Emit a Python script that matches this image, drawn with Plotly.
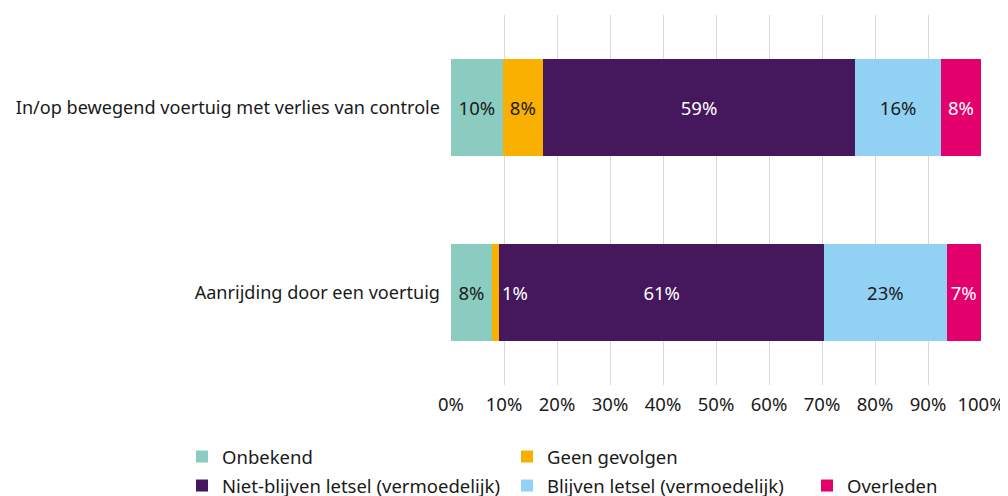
import plotly.graph_objects as go

categories = [
    "In/op bewegend voertuig met verlies van controle",
    "Aanrijding door een voertuig",
]
series_names = [
    "Onbekend",
    "Geen gevolgen",
    "Niet-blijven letsel (vermoedelijk)",
    "Blijven letsel (vermoedelijk)",
    "Overleden",
]
# share per category (percent)
values = {
    "Onbekend": [9.75, 7.7],
    "Geen gevolgen": [7.6, 1.4],
    "Niet-blijven letsel (vermoedelijk)": [58.9, 61.3],
    "Blijven letsel (vermoedelijk)": [16.2, 23.1],
    "Overleden": [7.55, 6.5],
}
labels = {
    "Onbekend": ["10%", "8%"],
    "Geen gevolgen": ["8%", ""],
    "Niet-blijven letsel (vermoedelijk)": ["59%", "61%"],
    "Blijven letsel (vermoedelijk)": ["16%", "23%"],
    "Overleden": ["8%", "7%"],
}
small_label = "1%"
tick_vals = list(range(0, 101, 10))
tick_text = [f"{v}%" for v in tick_vals]

colors = ["#8BCCC1", "#F9B000", "#45185E", "#91D1F3", "#E3006D"]
text_colors = ["#1a1a1a", "#1a1a1a", "#ffffff", "#1a1a1a", "#ffffff"]

FONT = "Noto Sans"
FS = 18.5

# page has an 8px body margin, so the figure is drawn 8px shifted;
# the figure is made taller than the window so the legends never push the margins
OFF = 8
W, H = 1008 - OFF, 530
L, R, T = 451 - OFF, 27, 15 - OFF
B = H - (385 - OFF)
pw, ph = W - L - R, H - T - B

# legend slots on screen: (symbol centre x, row centre y)
legend_pos = [(201, 457), (526, 457), (201, 486), (526, 486), (826, 486)]

fig = go.Figure()
layout_legends = {}
for i, name in enumerate(series_names):
    leg = "legend" if i == 0 else f"legend{i + 1}"
    fig.add_trace(go.Bar(
        name=name,
        y=categories,
        x=values[name],
        orientation="h",
        marker=dict(color=colors[i], line=dict(width=0)),
        text=labels[name],
        textposition="inside",
        insidetextanchor="middle",
        constraintext="none",
        textfont=dict(family=FONT, size=FS, color=text_colors[i]),
        legend=leg,
    ))
    sx, sy = legend_pos[i]
    ax = sx - 19 - OFF
    ay = sy - OFF
    layout_legends[leg] = dict(
        x=(ax - L) / pw,
        y=(H - B - ay) / ph,
        xanchor="left",
        yanchor="middle",
        orientation="h",
        bgcolor="rgba(0,0,0,0)",
        font=dict(family=FONT, size=FS, color="#1a1a1a"),
    )

fig.add_annotation(
    x=9.3, y=categories[1], text=small_label, showarrow=False,
    xanchor="left", font=dict(family=FONT, size=FS, color="#ffffff"),
)

fig.update_layout(
    barmode="stack",
    bargap=0.476,
    width=W,
    height=H,
    margin=dict(l=L, r=R, t=T, b=B, pad=0),
    plot_bgcolor="white",
    paper_bgcolor="white",
    font=dict(family=FONT, size=FS, color="#1a1a1a"),
    showlegend=True,
    **layout_legends,
)
fig.update_xaxes(
    range=[0, 100],
    tickvals=tick_vals,
    ticktext=tick_text,
    showgrid=True,
    gridcolor="#D9D9D9",
    gridwidth=1,
    zeroline=False,
    showline=False,
    ticks="",
    ticklabelstandoff=6,
    automargin=False,
    fixedrange=True,
)
fig.update_yaxes(
    categoryorder="array",
    categoryarray=categories[::-1],
    tickfont=dict(family=FONT, size=18.1, color="#1a1a1a"),
    showgrid=False,
    showline=False,
    ticks="",
    ticklabelstandoff=10,
    automargin=False,
    fixedrange=True,
)

fig.write_html("out.html")
